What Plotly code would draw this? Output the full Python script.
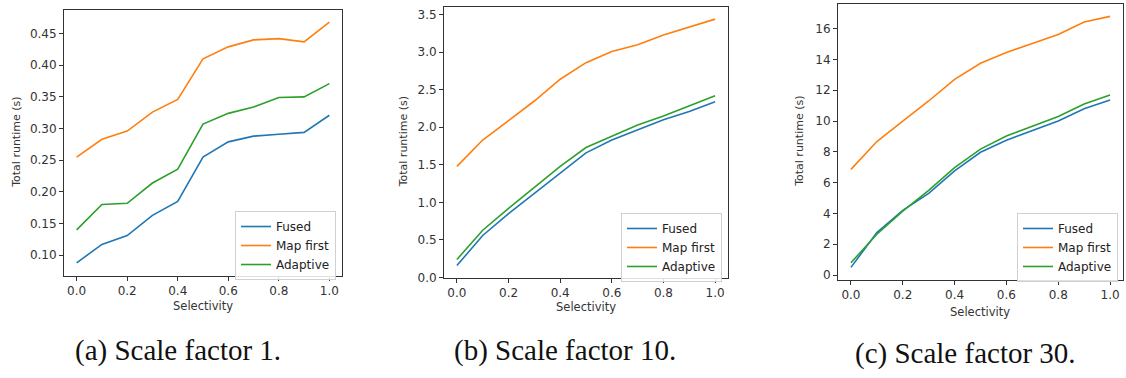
import plotly.graph_objects as go

selectivity = [0.0, 0.1, 0.2, 0.3, 0.4, 0.5, 0.6, 0.7, 0.8, 0.9, 1.0]

sf1_fused = [0.088, 0.117, 0.131, 0.163, 0.185, 0.255, 0.279, 0.288, 0.291, 0.294, 0.321]
sf1_map_first = [0.255, 0.283, 0.296, 0.326, 0.346, 0.410, 0.429, 0.440, 0.442, 0.437, 0.468]
sf1_adaptive = [0.140, 0.180, 0.182, 0.214, 0.236, 0.307, 0.324, 0.334, 0.349, 0.350, 0.371]

sf10_fused = [0.16, 0.56, 0.85, 1.12, 1.40, 1.66, 1.83, 1.96, 2.10, 2.21, 2.34]
sf10_map_first = [1.48, 1.83, 2.09, 2.35, 2.64, 2.86, 3.01, 3.10, 3.23, 3.33, 3.44]
sf10_adaptive = [0.24, 0.63, 0.92, 1.20, 1.48, 1.73, 1.88, 2.03, 2.15, 2.28, 2.42]

sf30_fused = [0.50, 2.76, 4.20, 5.30, 6.76, 7.97, 8.75, 9.35, 10.00, 10.80, 11.37]
sf30_map_first = [6.86, 8.67, 9.99, 11.30, 12.70, 13.75, 14.45, 15.02, 15.62, 16.43, 16.79]
sf30_adaptive = [0.80, 2.65, 4.15, 5.50, 6.97, 8.18, 9.03, 9.67, 10.30, 11.10, 11.69]

series_names = ["Fused", "Map first", "Adaptive"]
colors = ["#1f77b4", "#ff7f0e", "#2ca02c"]
captions = ["(a) Scale factor 1.", "(b) Scale factor 10.", "(c) Scale factor 30."]
x_title = "Selectivity"
y_title = "Total runtime (s)"

W, H = 1126, 378

panels = [
    dict(data=[sf1_fused, sf1_map_first, sf1_adaptive], px=(64, 342), py=(10, 281),
         yr=(0.0675, 0.4875), dtick=0.05, fmt=".2f", leg=(336, 215), ytx=17,
         xlab=(203, 312), cap=(178, 357)),
    dict(data=[sf10_fused, sf10_map_first, sf10_adaptive], px=(444, 728), py=(7, 283),
         yr=(-0.003, 3.603), dtick=0.5, fmt=".1f", leg=(722, 217), ytx=403,
         xlab=(586, 313), cap=(565, 357)),
    dict(data=[sf30_fused, sf30_map_first, sf30_adaptive], px=(838, 1123), py=(4, 285),
         yr=(-0.30, 17.60), dtick=2, fmt="d", leg=(1118, 217), ytx=800,
         xlab=(980, 318), cap=(965, 360)),
]

fig = go.Figure()
annotations = []
layout = {}
for i, p in enumerate(panels):
    k = "" if i == 0 else str(i + 1)
    legname = "legend" if i == 0 else f"legend{i + 1}"
    for j, (name, vals) in enumerate(zip(series_names, p["data"])):
        fig.add_trace(go.Scatter(
            x=selectivity, y=vals, mode="lines", name=name,
            line=dict(color=colors[j], width=1.6),
            xaxis="x" + k, yaxis="y" + k, legend=legname, showlegend=True))
    x0, x1 = p["px"]
    y0, y1 = p["py"]
    axcommon = dict(showline=True, linecolor="#333333", linewidth=1, mirror=True,
                    ticks="outside", ticklen=4, tickcolor="#333333", showgrid=False,
                    zeroline=False, tickfont=dict(family="DejaVu Sans", size=12, color="#333333"))
    layout["xaxis" + k] = dict(domain=[x0 / W, x1 / W], anchor="y" + k,
                               range=[-0.05, 1.05], tickvals=[0, 0.2, 0.4, 0.6, 0.8, 1.0],
                               tickformat=".1f", **axcommon)
    layout["yaxis" + k] = dict(domain=[1 - y1 / H, 1 - y0 / H], anchor="x" + k,
                               range=list(p["yr"]), dtick=p["dtick"], tick0=0,
                               tickformat=p["fmt"], **axcommon)
    lx, ly = p["leg"]
    layout[legname] = dict(x=lx / W, y=1 - ly / H, xanchor="right", yanchor="top",
                           bgcolor="rgba(255,255,255,0.85)", bordercolor="#d0d0d0",
                           borderwidth=1, font=dict(family="DejaVu Sans", size=12, color="#222222"),
                           tracegroupgap=0, itemwidth=30)
    annotations.append(dict(text=y_title, xref="paper", yref="paper",
                            x=p["ytx"] / W, y=1 - ((y0 + y1) / 2) / H, textangle=-90,
                            showarrow=False,
                            font=dict(family="DejaVu Sans", size=11, color="#333333"),
                            xanchor="center", yanchor="middle"))
    annotations.append(dict(text=x_title, xref="paper", yref="paper",
                            x=p["xlab"][0] / W, y=1 - p["xlab"][1] / H, showarrow=False,
                            font=dict(family="DejaVu Sans", size=11.5, color="#333333"),
                            xanchor="center", yanchor="middle"))
    annotations.append(dict(text=captions[i], xref="paper", yref="paper",
                            x=p["cap"][0] / W, y=1 - p["cap"][1] / H, showarrow=False,
                            font=dict(family="Liberation Serif", size=29, color="#111111"),
                            xanchor="center", yanchor="middle"))

fig.update_layout(width=W, height=H, margin=dict(l=0, r=0, t=0, b=0),
                  paper_bgcolor="white", plot_bgcolor="white",
                  annotations=annotations, **layout)
fig.write_html("out.html", config={"displayModeBar": False},
               post_script="document.body.style.margin='0';document.body.style.overflow='hidden';")
